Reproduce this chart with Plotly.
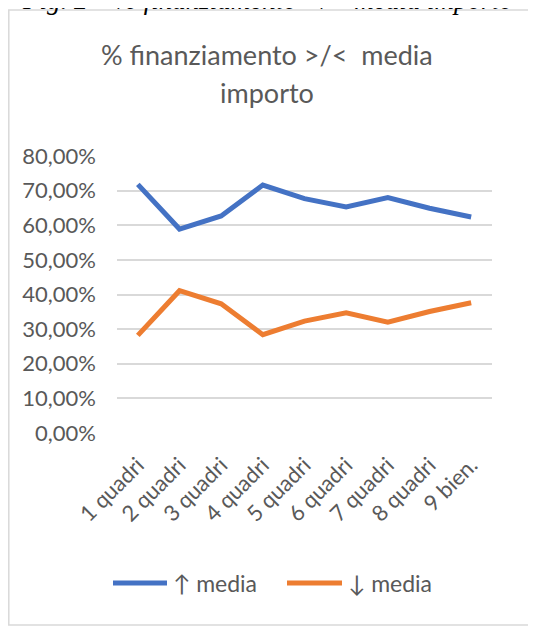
import plotly.graph_objects as go

categories = ["1 quadri", "2 quadri", "3 quadri", "4 quadri", "5 quadri",
              "6 quadri", "7 quadri", "8 quadri", "9 bien."]
above_avg = [71.8, 58.9, 62.7, 71.6, 67.7, 65.3, 68.0, 64.9, 62.4]
below_avg = [28.2, 41.1, 37.3, 28.4, 32.3, 34.7, 32.0, 35.1, 37.6]
series_names = ["↑ media", "↓ media"]
series_colors = ["#4472C4", "#ED7D31"]
y_ticks = [0, 10, 20, 30, 40, 50, 60, 70, 80]
y_labels = ["%d,00%%" % v for v in y_ticks]

FONT = "Lato"
GREY = "#595959"

# figure is drawn 8px in from the page corner (body margin), so it is 8px smaller
W, H = 528, 620
L, T, PW, PH = 109, 148, 375, 277


def px_x(p):
    return (p - L) / PW


def px_y(p):
    return 1 - (p - T) / PH


fig = go.Figure()
for vals, name, color in zip([above_avg, below_avg], series_names, series_colors):
    fig.add_trace(go.Scatter(x=categories, y=vals, mode="lines", name=name,
                             line=dict(color=color, width=5), showlegend=False))

fig.update_layout(
    width=W, height=H,
    margin=dict(l=L, r=W - L - PW, t=T, b=H - T - PH),
    paper_bgcolor="white", plot_bgcolor="white",
    font=dict(family=FONT, color=GREY),
)
fig.update_xaxes(type="category", range=[-0.5, 8.5], tickangle=-45,
                 tickfont=dict(size=22, color=GREY), showgrid=False,
                 showline=False, ticks="", zeroline=False, ticklabelstandoff=14)
fig.update_yaxes(range=[0, 80], tickvals=y_ticks, ticktext=y_labels,
                 tickfont=dict(size=22, color=GREY), gridcolor="#d9d9d9",
                 gridwidth=1.5, zeroline=False, showline=False, ticks="",
                 ticklabelstandoff=20)

# chart title (two lines)
fig.add_annotation(text="% finanziamento >/<  media", xref="paper", yref="paper",
                   x=px_x(259), y=px_y(46), xanchor="center", yanchor="middle",
                   showarrow=False, font=dict(size=27, color=GREY, family=FONT))
fig.add_annotation(text="importo", xref="paper", yref="paper",
                   x=px_x(259), y=px_y(85), xanchor="center", yanchor="middle",
                   showarrow=False, font=dict(size=27, color=GREY, family=FONT))

# legend drawn by hand to get Excel-like long line samples
for (x0, x1), name, color in zip([(105, 159), (279, 334)], series_names, series_colors):
    fig.add_shape(type="line", xref="paper", yref="paper",
                  x0=px_x(x0), x1=px_x(x1), y0=px_y(575), y1=px_y(575),
                  line=dict(color=color, width=5))
    fig.add_annotation(text=name, xref="paper", yref="paper",
                       x=px_x(x1 + 4), y=px_y(575), xanchor="left", yanchor="middle",
                       showarrow=False, font=dict(size=23, color=GREY, family=FONT))

# clipped figure caption above the chart frame
fig.add_annotation(text="Fig. 2 – % finanziamento >/< media importo", xref="paper", yref="paper",
                   x=px_x(259), y=px_y(9), xanchor="center", yanchor="bottom",
                   showarrow=False,
                   font=dict(size=27, color="black", family="Liberation Serif", style="italic"))

# chart frame
fig.add_shape(type="rect", xref="paper", yref="paper",
              x0=px_x(0.8), x1=px_x(545), y0=px_y(617), y1=px_y(2),
              line=dict(color="#d9d9d9", width=1.5), fillcolor="rgba(0,0,0,0)", layer="below")

fig.write_html("out.html")
